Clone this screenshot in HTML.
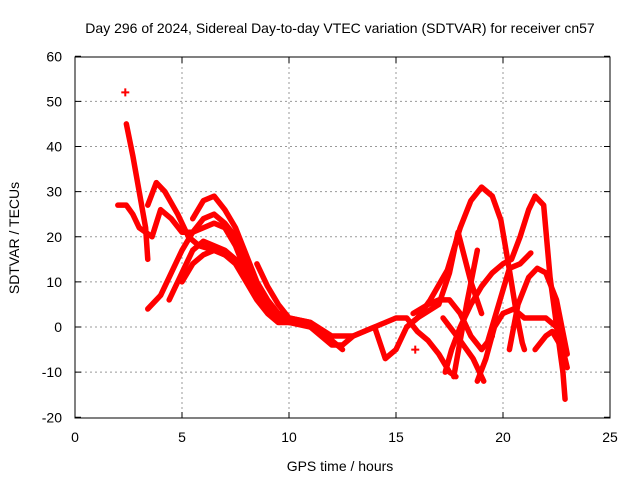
<!DOCTYPE html>
<html><head><meta charset="utf-8"><style>
body{margin:0;background:#fff}
svg{display:block;font-family:"Liberation Sans",sans-serif;font-size:14px}
</style></head><body>
<svg id="c" width="640" height="480">
<text x="340" y="33" text-anchor="middle">Day 296 of 2024, Sidereal Day-to-day VTEC variation (SDTVAR) for receiver cn57</text>
<text x="340" y="471" text-anchor="middle">GPS time / hours</text>
<text transform="translate(19,238) rotate(-90)" text-anchor="middle">SDTVAR / TECUs</text>
<g id="grid"></g><g id="marks"></g>
<rect x="75" y="57" width="535" height="361" fill="none" stroke="#000" stroke-width="1"/>
</svg>
<script>
const xTicks=[0,5,10,15,20,25];
const yTicks=[-20,-10,0,10,20,30,40,50,60];
const outlier=[[2.35,52],[15.9,-5]];
const t1=[[2.0,27],[2.4,27],[2.7,25],[3.0,22],[3.3,21],[3.6,20],[4.0,26],[4.5,24],[5.0,21],[5.5,21],[6.0,22],[6.5,23],[7.0,22],[7.5,18],[8.0,12],[8.5,7],[9.0,4],[9.5,2],[10,1],[10.5,1],[11,0],[11.5,-2],[12,-4],[12.5,-4],[13,-2],[13.5,-1],[14,0],[14.5,1],[15,2],[15.5,2],[16,-1],[16.5,-3],[17,-6],[17.5,-10],[17.8,-11]];
const t2=[[2.4,45],[2.7,38],[3.0,30],[3.3,22],[3.4,15]];
const t3=[[3.4,27],[3.8,32],[4.2,30],[4.8,25],[5.3,20],[5.8,18],[6.5,17],[7,16],[7.5,14],[8,10],[8.5,6],[9,3],[9.5,1],[10,1],[11,0],[12,-3],[12.5,-5]];
const t4=[[3.4,4],[4,7],[4.5,12],[5,17],[5.5,21],[6,24],[6.5,25],[7,23],[7.5,20],[8,14],[8.5,9],[9,5],[9.5,3],[10,2],[11,1],[12,-3]];
const t5=[[4.4,6],[5,12],[5.5,17],[6,19],[6.5,18],[7,17],[7.5,15],[8,11],[8.5,7],[9,4],[10,2]];
const t6=[[5,10],[5.5,14],[6,16],[6.5,17],[7,16]];
const t7=[[5.5,24],[6,28],[6.5,29],[7,26],[7.5,22],[8,16],[8.5,10],[9,6],[9.5,3],[10,2]];
const t8=[[8.5,14],[9,9],[9.5,5],[10,2],[11,1],[12,-2],[13,-2],[14,0],[14.5,-7],[15,-5],[15.5,0],[16,2]];
const r1=[[15.5,0],[16,2],[16.6,6],[17.4,12.6],[18.0,22],[18.5,28],[19,31],[19.5,29],[19.9,23.7],[20.3,12.6],[20.6,3.8],[20.9,-3.5],[21.0,-5]];
const r2=[[17.3,-10],[17.6,-5],[18,0],[18.5,5],[19,9],[19.5,12],[20,14],[20.4,15],[20.8,20],[21.2,26],[21.5,29],[21.9,27],[22.2,11],[22.7,-6.6],[22.8,-10],[22.9,-16]];
const r3=[[18.8,-12],[19.2,-7],[19.6,0],[20,3],[20.5,4],[21,2],[21.5,2],[22,2],[22.5,0],[22.8,-5],[23,-9]];
const r4=[[15.8,3],[16.5,5],[17,6],[17.5,6],[18,3],[18.5,-2],[19,-5],[19.5,-2]];
const r5=[[16,2],[17,5],[17.5,12],[17.9,21],[18.5,10],[19,3]];
const r6=[[20.3,-5],[20.7,5],[21.2,11],[21.6,13],[22,12],[22.5,6],[23,-6]];
const r7=[[21.5,-5],[22,-2],[22.3,-1],[22.8,-5]];
const r8=[[18.8,17],[18.3,5],[17.7,-11]];
const r9=[[17.2,2],[18,-3],[18.6,-7],[19.1,-12]];
const r10=[[19.3,-3],[19.8,5],[20.3,13],[20.8,14],[21.3,16.4]];
const tracks=[t1,t2,t3,t4,t5,t6,t7,t8,r1,r2,r3,r4,r5,r6,r7,r8,r9,r10];
const NS="http://www.w3.org/2000/svg";
const X=v=>75+v*21.4, Y=v=>327-v*4.5125;
const grid=document.getElementById('grid'), marks=document.getElementById('marks');
function mk(tag,a,p){const e=document.createElementNS(NS,tag);for(const k in a)e.setAttribute(k,a[k]);p.appendChild(e);return e;}
xTicks.forEach(t=>{
 if(t>0&&t<25){const l=mk('line',{x1:X(t),x2:X(t),y1:57,y2:418,stroke:'#999','stroke-dasharray':'2,3'},grid);
 
 }
 mk('line',{x1:X(t),x2:X(t),y1:418,y2:412,stroke:'#000'},grid);
 mk('line',{x1:X(t),x2:X(t),y1:57,y2:63,stroke:'#000'},grid);
 const tx=mk('text',{x:X(t),y:442,'text-anchor':'middle'},grid);tx.textContent=t;
 
 
});
yTicks.forEach(t=>{
 if(t>-20&&t<60){const l=mk('line',{x1:75,x2:610,y1:Y(t),y2:Y(t),stroke:'#999','stroke-dasharray':'2,3'},grid);
 
 }
 mk('line',{x1:75,x2:81,y1:Y(t),y2:Y(t),stroke:'#000'},grid);
 mk('line',{x1:610,x2:604,y1:Y(t),y2:Y(t),stroke:'#000'},grid);
 const tx=mk('text',{x:62,y:Y(t)+5,'text-anchor':'end'},grid);tx.textContent=t;
 
 
});
tracks.forEach((tr,i)=>{
 const p=mk('polyline',{points:tr.map(q=>X(q[0])+','+Y(q[1])).join(' '),fill:'none',stroke:'#f00','stroke-width':5.5,'stroke-linejoin':'round','stroke-linecap':'round'},marks);
 
 
});
outlier.forEach(q=>{
 const g=mk('path',{d:`M${X(q[0])-4},${Y(q[1])}h8M${X(q[0])},${Y(q[1])-4}v8`,stroke:'#f00','stroke-width':2},marks);
 
 
});
</script>
</body></html>
